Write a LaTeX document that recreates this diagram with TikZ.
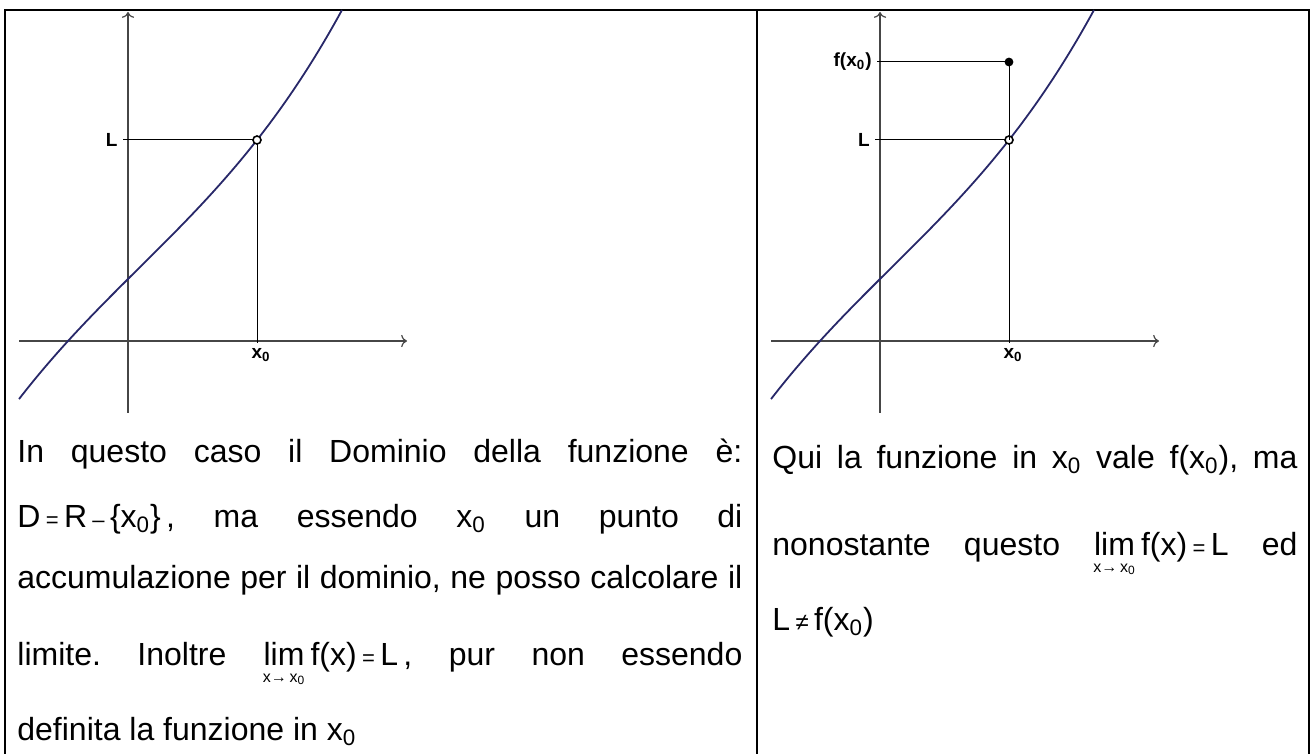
\documentclass[tikz,border=0pt]{standalone}
\usepackage{fontspec}
\setmainfont{Liberation Sans}
\usetikzlibrary{arrows.meta}
\definecolor{curva}{RGB}{40,40,105}
\definecolor{assi}{RGB}{70,70,70}
\newcommand{\xz}{x\textsubscript{0}}
\newcommand{\ug}{{\fontsize{11}{11}\selectfont =}}
\newcommand{\meno}{{\fontsize{11}{11}\selectfont –}}
\newcommand{\limxz}{$\mathop{\hbox{lim}}\limits_{\lower2.5pt\hbox{\fontsize{8}{8}\selectfont x→\,\xz}}$}
\frenchspacing

\begin{document}
\begin{tikzpicture}[x=0.5pt, y=-0.5pt,
    asse/.style={assi, line width=0.6pt, ->},
    guida/.style={black, line width=0.5pt},
    etic/.style={font=\fontsize{9.5}{9.5}\selectfont\bfseries, inner sep=2.5pt},
    riga/.style={anchor=base west, inner sep=0pt, font=\fontsize{16}{19}\selectfont}]
  \useasboundingbox (0,0) rectangle (1313,754);
  % cornice
  \draw[line width=1pt] (5,770) -- (5,10) -- (1309,10) -- (1309,770);
  \draw[line width=1pt] (757,10) -- (757,770);
  % i due grafici
  \foreach \i/\dx in {1/0, 2/752} {
    \begin{scope}[xshift=\dx*0.5pt]
      \draw[asse] (19,341) -- (407,341);
      \draw[asse] (128,413) -- (128,12);
      \draw[curva, line width=0.9pt] plot[domain=-1.09:2.14, samples=80, smooth]
        ({128+100*\x}, {341-(62+99.43*\x-2.39*\x*\x+6.854*\x*\x*\x)});
      \coordinate (P\i) at (257,140);
      \node[etic, anchor=east] (L\i) at (123,140) {L};
      \node[etic, anchor=north] (x\i) at (261,343) {\xz};
      \draw[guida] (L\i.east) -- (P\i);
      \draw[guida] (P\i) -- (P\i |- x\i.north);
      \draw[black, line width=0.8pt, fill=white] (P\i) circle (2pt);
    \end{scope}
  }
  % valore in x0
  \coordinate (Q) at (1009,62);
  \node[etic, anchor=east] (F) at (877,62) {f(\xz)};
  \draw[guida] (F.east) -- (Q);
  \draw[guida] (Q) -- (P2);
  \fill[black] (Q) circle (2.2pt);
  % testo a sinistra
  \node[riga] (l1) at (17,462) {\makebox[362.5pt][s]{In questo caso il Dominio della funzione è:}};
  \node[riga] (l2) at (17,527) {\makebox[362.5pt][s]{D\,\ug\,R\,\meno\,\{\xz\}\,, ma essendo \xz\ un punto di}};
  \node[riga] (l3) at (17,588) {\makebox[362.5pt][s]{accumulazione per il dominio, ne posso calcolare il}};
  \node[riga] (l4) at (17,665) {\makebox[362.5pt][s]{limite. Inoltre \limxz\,f(x)\,\ug\,L\,, pur non essendo}};
  \node[riga] (l5) at (17,740) {definita la funzione in \xz};
  % testo a destra
  \node[riga] (r1) at (772,468) {\makebox[262.5pt][s]{Qui la funzione in \xz\ vale f(\xz), ma}};
  \node[riga] (r2) at (772,555) {\makebox[262.5pt][s]{nonostante questo \limxz\,f(x)\,\ug\,L ed}};
  \node[riga] (r3) at (772,630) {L\,{\fontsize{12}{12}\selectfont ≠}\,f(\xz)};
\end{tikzpicture}
\end{document}
